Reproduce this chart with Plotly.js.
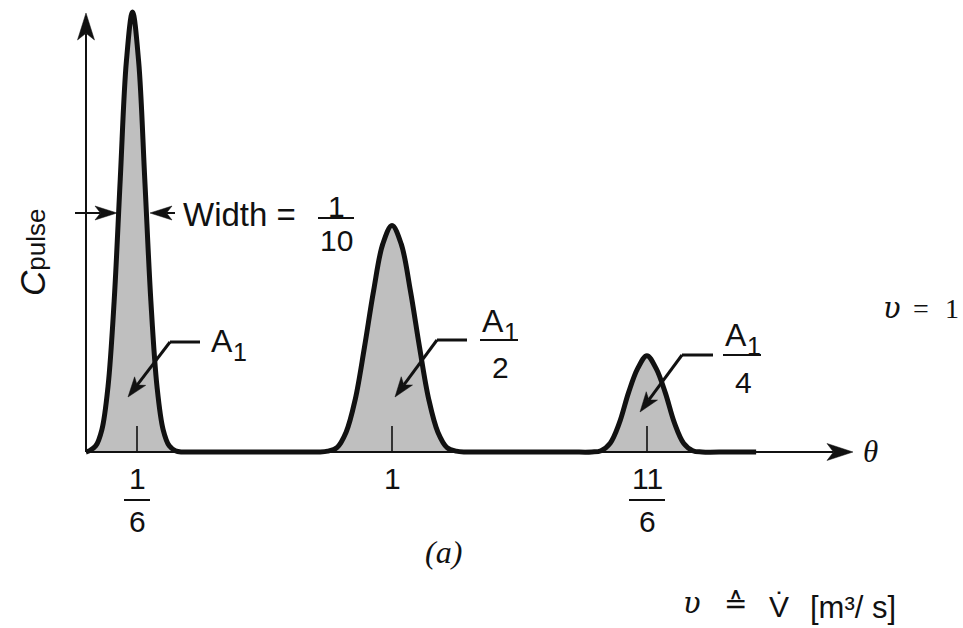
<!DOCTYPE html>
<html>
<head>
<meta charset="utf-8">
<script src="https://cdn.plot.ly/plotly-3.0.1.min.js"></script>
<style>
  html, body { margin: 0; padding: 0; background: #fff; }
  #chart { width: 963px; height: 628px; }
</style>
</head>
<body>
<div id="chart"></div>
<script>
// Pulse train of tracer concentration against dimensionless time theta
const theta = [0, 0.012, 0.032, 0.052, 0.072, 0.092, 0.112, 0.132, 0.152, 0.172, 0.192, 0.212, 0.232, 0.252, 0.272, 0.292, 0.312, 0.34,
  0.70, 0.76, 0.79, 0.82, 0.85, 0.88, 0.91, 0.94, 0.97, 1.00, 1.03, 1.06, 1.09, 1.12, 1.15, 1.18, 1.21, 1.24, 1.30,
  1.58, 1.653, 1.683, 1.713, 1.743, 1.773, 1.803, 1.833, 1.863, 1.893, 1.923, 1.953, 1.983, 2.013, 2.10, 2.19];
const cPulse = [0, 0.003, 0.014, 0.051, 0.149, 0.343, 0.621, 0.888, 1.0, 0.888, 0.621, 0.343, 0.149, 0.051, 0.014, 0.003, 0, 0,
  0, 0, 0.002, 0.010, 0.045, 0.120, 0.238, 0.367, 0.473, 0.515, 0.473, 0.367, 0.238, 0.120, 0.045, 0.010, 0.002, 0, 0,
  0, 0, 0.003, 0.020, 0.066, 0.135, 0.190, 0.219, 0.190, 0.135, 0.066, 0.020, 0.003, 0, 0, 0];

// Tick positions and their fraction labels
const tickVals = [1 / 6, 1, 11 / 6];
const tickNum = ['1', '1', '11'];
const tickDen = ['6', '', '6'];

// Area labels of the three pulses
const areaNum = ['A', 'A', 'A'];
const areaSub = ['1', '1', '1'];
const areaDen = ['', '2', '4'];

const W = 963, H = 628;
const X0 = 86, PXU = 306;   // theta = 0 position and pixels per unit theta
const Y0 = 452, PYU = 440;  // C = 0 position and pixels per unit C
const xRange = [-X0 / PXU, (W - X0) / PXU];
const yRange = [-(H - Y0) / PYU, Y0 / PYU];
const fx = px => px / W;
const fy = py => 1 - py / H;
const INK = '#111111';
const SANS = 'Liberation Sans, Arial, sans-serif';
const SERIF = 'Liberation Serif, Times New Roman, serif';
const GREEK = 'DejaVu Serif, serif';

const shapes = [];
const annotations = [];

function seg(x0, y0, x1, y1, w) {
  shapes.push({type: 'line', xref: 'paper', yref: 'paper',
    x0: fx(x0), y0: fy(y0), x1: fx(x1), y1: fy(y1),
    line: {color: INK, width: w}});
}

// Line with a barbed, filled arrow head at (x1, y1)
function arrow(x0, y0, x1, y1, len, half, w) {
  const L = Math.hypot(x1 - x0, y1 - y0);
  const ux = (x1 - x0) / L, uy = (y1 - y0) / L, nx = -uy, ny = ux;
  const bx = x1 - len * ux, by = y1 - len * uy;
  const mx = x1 - 0.75 * len * ux, my = y1 - 0.75 * len * uy;
  seg(x0, y0, mx, my, w);
  const pts = [[x1, y1], [bx + half * nx, by + half * ny], [mx, my], [bx - half * nx, by - half * ny]];
  shapes.push({type: 'path', xref: 'paper', yref: 'paper',
    path: 'M' + pts.map(p => fx(p[0]).toFixed(5) + ',' + fy(p[1]).toFixed(5)).join('L') + 'Z',
    fillcolor: INK, line: {color: INK, width: 0.5}});
}

function txt(px, py, text, size, family, extra) {
  annotations.push(Object.assign({xref: 'paper', yref: 'paper', x: fx(px), y: fy(py),
    text: text, showarrow: false, xanchor: 'center', yanchor: 'middle',
    font: {family: family, size: size, color: INK}}, extra || {}));
}

function frac(cx, num, den, numY, barY, denY, half, size) {
  txt(cx, numY, num, size, SANS);
  if (den) {
    seg(cx - half, barY, cx + half, barY, 2);
    txt(cx, denY, den, size, SANS);
  }
}

// Axes with arrow heads
arrow(X0, Y0, X0, 13, 27, 8.5, 2);
arrow(X0, Y0, 853, Y0, 26, 8.5, 2);

// Axis labels
txt(33, 253, '<i>C</i><span style="font-size:26px">pulse</span>', 35, SANS, {textangle: -90});
txt(870, 452, '<i>θ</i>', 31, SERIF);

// Tick labels under the axis
tickVals.forEach((t, i) => {
  const cx = X0 + PXU * t;
  const half = tickNum[i].length > 1 ? 18 : 13;
  frac(cx, tickNum[i], tickDen[i], 478, 500, 521, half, 30);
});

// Width marker on the first pulse
arrow(75, 213, 117, 213, 22, 7, 2);
arrow(175, 213, 150, 213, 22, 7, 2);
txt(181, 214, 'Width =', 33, SANS, {xanchor: 'left'});
frac(336, '1', '10', 206, 218, 241, 18, 30);

// Area labels with leader arrows
const labelPos = [
  {ax: 222, ay: 341, bar: null, denY: null, h: [200, 170, 342], tip: [128, 397]},
  {ax: 493, ay: 321, bar: 340, denY: 367, h: [467, 437, 340], tip: [395, 397]},
  {ax: 736, ay: 335, bar: 355, denY: 382, h: [713, 682, 355], tip: [640, 412]}
];
labelPos.forEach((p, i) => {
  txt(p.ax, p.ay, areaNum[i], 32, SANS);
  txt(p.ax + 18, p.ay + 11, areaSub[i], 25, SANS);
  if (areaDen[i]) {
    seg(p.ax - 13, p.bar, p.ax + 25, p.bar, 2);
    txt(p.ax + 7, p.denY, areaDen[i], 30, SANS);
  }
  seg(p.h[0], p.h[2], p.h[1], p.h[2], 3);
  arrow(p.h[1], p.h[2], p.tip[0], p.tip[1], 20, 7, 3);
});

// Captions
txt(443, 552, '<i>(a)</i>', 32, SERIF);
txt(892, 308, '<i>υ</i>', 29, GREEK);
txt(921, 309, '=', 28, SERIF);
txt(952, 309, '1', 28, SERIF);
txt(692, 603, '<i>υ</i>', 29, GREEK);
txt(735, 603, '≙', 28, 'DejaVu Sans, sans-serif');
txt(779, 606, 'V̇', 30, SANS);
txt(853, 607, '[m³/ s]', 31, SANS);

const pulse = {
  x: theta, y: cPulse, type: 'scatter', mode: 'lines',
  line: {color: INK, width: 5, shape: 'spline', smoothing: 1},
  fill: 'tozeroy',
  fillpattern: {shape: '.', size: 2, solidity: 0.5, fgcolor: '#6e6e6e', bgcolor: '#ffffff'},
  hoverinfo: 'skip'
};

const tx = [], ty = [];
tickVals.forEach(t => { tx.push(t, t, null); ty.push(0, 0.059, null); });
const ticks = {x: tx, y: ty, type: 'scatter', mode: 'lines',
  line: {color: INK, width: 1.6}, hoverinfo: 'skip'};

const layout = {
  width: W, height: H, autosize: false,
  margin: {l: 0, r: 0, t: 0, b: 0, pad: 0},
  paper_bgcolor: '#ffffff', plot_bgcolor: '#ffffff',
  showlegend: false,
  xaxis: {range: xRange, visible: false, fixedrange: true},
  yaxis: {range: yRange, visible: false, fixedrange: true},
  shapes: shapes,
  annotations: annotations
};

Plotly.newPlot('chart', [pulse, ticks], layout, {staticPlot: true, displayModeBar: false});
</script>
</body>
</html>
